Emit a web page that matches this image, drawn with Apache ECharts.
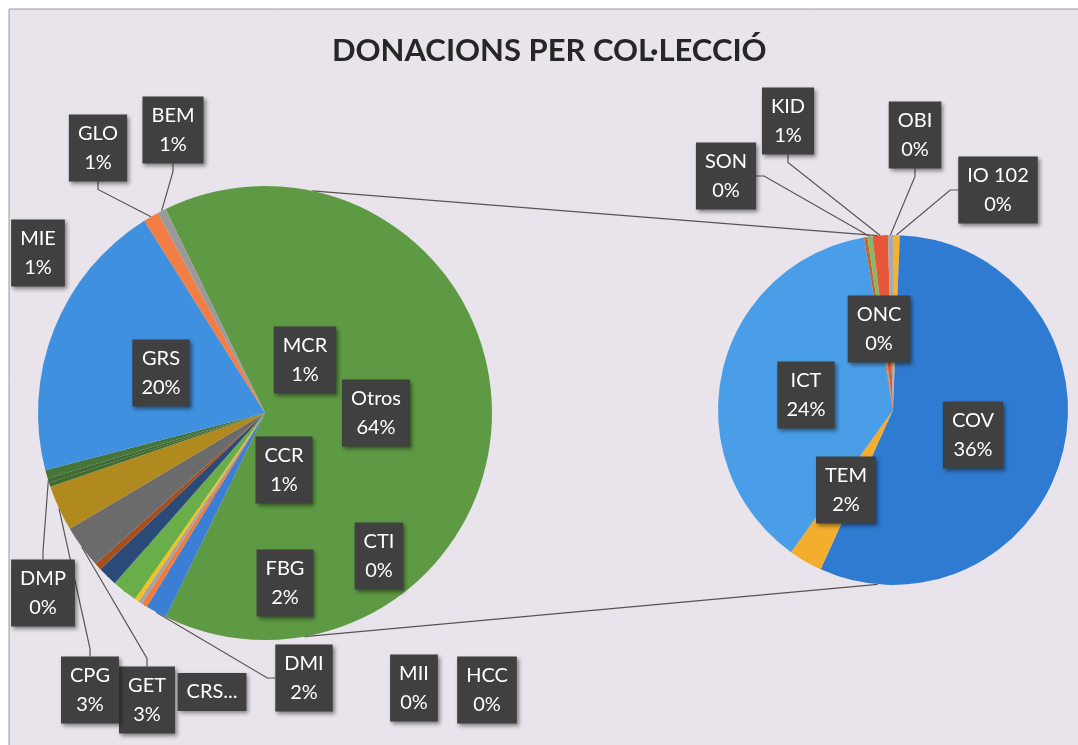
<!DOCTYPE html>
<html>
<head>
<meta charset="utf-8">
<script src="https://cdn.jsdelivr.net/npm/echarts@6/dist/echarts.min.js"></script>
<style>
  html, body { margin: 0; padding: 0; background: #fff; }
  #main { width: 1078px; height: 745px; }
</style>
</head>
<body>
<div id="main"></div>
<script>
// main pie, clockwise from the start of "Otros" (values in % of total)
var mainNames = ['Otros', 'DMI', 'CTI', 'MII', 'HCC', 'FBG', 'CCR', 'MCR', 'GET', 'CPG', 'CRS...', 'DMP', 'MIE', 'GRS', 'GLO', 'BEM']
var mainValues = [64.3, 1.5, 0.4, 0.3, 0.3, 1.8, 1.4, 0.5, 3.05, 3.25, 0.3, 0.3, 0.6, 20.1, 1.1, 0.6]
// secondary pie = breakdown of "Otros", clockwise from the top
var subNames = ['IO 102', 'COV', 'TEM', 'ICT', 'ONC', 'SON', 'KID', 'OBI']
var subValues = [0.4, 36, 2, 24, 0.2, 0.3, 0.9, 0.3]

var mainColors = ['#5e9a43', '#3b7fd4', '#f07b3c', '#a5a5a5', '#f4c21b', '#6aae4a', '#2a4a78', '#a3501e',
  '#6b6b6b', '#b08a1e', '#3f6a32', '#3f6a32', '#46753a', '#3f90df', '#f27e45', '#9a9a9a']
var subColors = ['#f3b233', '#2f7bd1', '#f4ae2e', '#4a9ee7', '#c4662a', '#86b86a', '#e8563a', '#a7aab0']

// label box centres (px) and which labels get a leader line
var labelPos = {
  'Otros': [376, 413], 'DMI': [304, 678], 'CTI': [379, 556], 'MII': [414, 688], 'HCC': [487, 690],
  'FBG': [285, 583], 'CCR': [284, 470], 'MCR': [305, 360], 'GET': [147, 700], 'CPG': [90, 690],
  'CRS...': [212, 692], 'DMP': [43, 593], 'MIE': [38, 253], 'GRS': [161, 373], 'GLO': [98, 148],
  'BEM': [173, 130],
  'IO 102': [998, 190], 'COV': [973, 435], 'TEM': [846, 490], 'ICT': [806, 395], 'ONC': [879, 329],
  'SON': [726, 176], 'KID': [788, 121], 'OBI': [915, 135]
}
var withLine = ['DMI', 'CTI', 'FBG', 'CCR', 'GET', 'CPG', 'DMP', 'GLO', 'BEM', 'SON', 'KID', 'OBI', 'IO 102']

var mainCenter = [265, 413], mainR = 227
var subCenter = [893, 410], subR = 175

function toData(names, values) {
  return names.map(function (n, i) {
    return { name: n, value: values[i], labelLine: { show: withLine.indexOf(n) >= 0 } }
  })
}

function placeLabel(names) {
  return function (params) {
    var p = labelPos[names[params.dataIndex]]
    return { x: p[0], y: p[1], align: 'center', verticalAlign: 'middle' }
  }
}

function edgePoint(c, r, deg) {
  var a = deg * Math.PI / 180
  return [c[0] + r * Math.sin(a), c[1] - r * Math.cos(a)]
}

var labelStyle = {
  show: true,
  position: 'outside',
  formatter: function (p) {
    if (p.name.indexOf('...') > 0) return p.name
    return p.name + '\n' + Math.round(p.value) + '%'
  },
  color: '#fff',
  fontFamily: 'Lato',
  fontSize: 20,
  lineHeight: 29,
  align: 'center',
  backgroundColor: '#404040',
  padding: [5, 9, 4, 9],
  shadowBlur: 4,
  shadowColor: 'rgba(0,0,0,0.45)',
  shadowOffsetX: 2,
  shadowOffsetY: 2
}
var lineStyle = { lineStyle: { color: '#555', width: 1.2 }, length: 8, length2: 8 }

var chart = echarts.init(document.getElementById('main'))
chart.setOption({
  animation: false,
  title: {
    text: 'DONACIONS PER COL·LECCIÓ',
    left: 327,
    top: 30,
    textStyle: { fontFamily: 'Lato', fontSize: 31, fontWeight: 'bold', color: '#262626' }
  },
  graphic: [
    { type: 'rect', z: -10, shape: { x: 9, y: 9, width: 1080, height: 745 },
      style: { fill: '#e9e4ec', stroke: '#9a9a9a', lineWidth: 1 } },
    { type: 'line', z: 0, shape: (function () {
        var a = edgePoint(mainCenter, mainR, 12), b = edgePoint(subCenter, subR, -5)
        return { x1: a[0], y1: a[1], x2: b[0], y2: b[1] }
      })(), style: { stroke: '#555', lineWidth: 1.2 } },
    { type: 'line', z: 0, shape: (function () {
        var a = edgePoint(mainCenter, mainR, 170), b = edgePoint(subCenter, subR, 185)
        return { x1: a[0], y1: a[1], x2: b[0], y2: b[1] }
      })(), style: { stroke: '#555', lineWidth: 1.2 } }
  ],
  series: [
    {
      type: 'pie',
      center: mainCenter,
      radius: mainR,
      startAngle: 116,
      clockwise: true,
      avoidLabelOverlap: false,
      color: mainColors,
      data: toData(mainNames, mainValues),
      label: labelStyle,
      labelLine: lineStyle,
      labelLayout: placeLabel(mainNames)
    },
    {
      type: 'pie',
      center: subCenter,
      radius: subR,
      startAngle: 90,
      clockwise: true,
      avoidLabelOverlap: false,
      color: subColors,
      data: toData(subNames, subValues),
      label: labelStyle,
      labelLine: lineStyle,
      labelLayout: placeLabel(subNames)
    }
  ]
})
</script>
</body>
</html>
